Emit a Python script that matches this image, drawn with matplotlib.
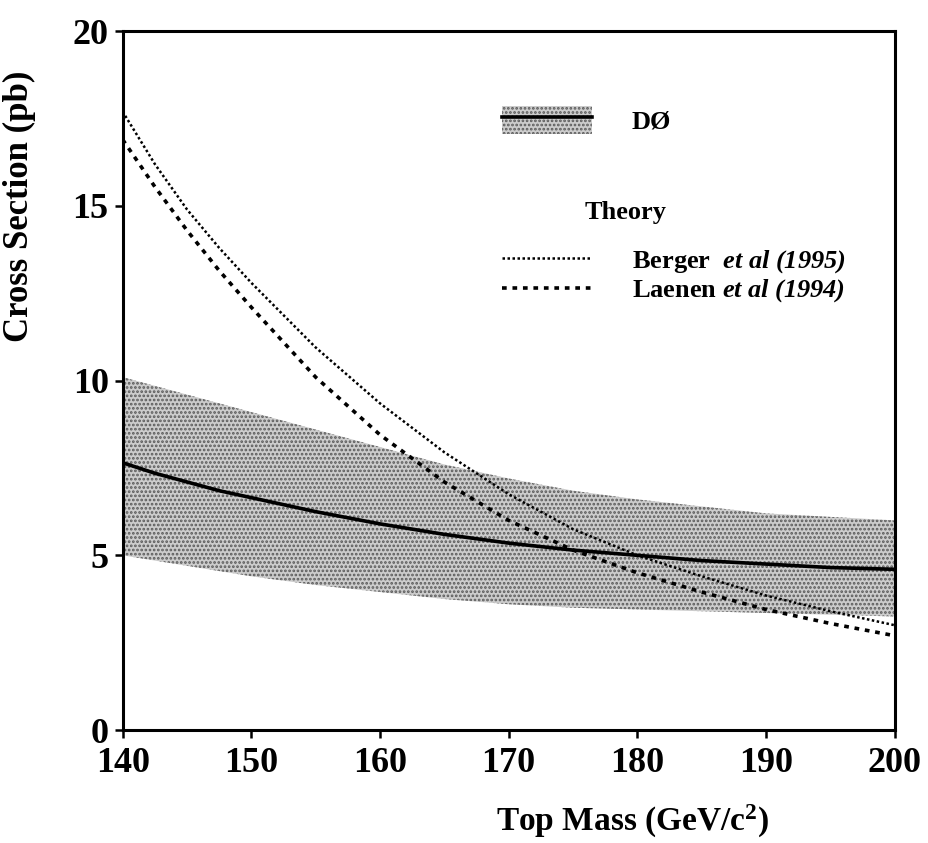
import matplotlib
matplotlib.use("Agg")
import matplotlib.pyplot as plt
from matplotlib.patches import Patch
from matplotlib.lines import Line2D

plt.rcParams['font.family'] = ['Liberation Serif', 'DejaVu Serif']
plt.rcParams['mathtext.fontset'] = 'custom'
plt.rcParams['mathtext.rm'] = 'Liberation Serif'
plt.rcParams['mathtext.it'] = 'Liberation Serif:italic'
plt.rcParams['mathtext.bf'] = 'Liberation Serif:bold'
plt.rcParams['mathtext.bfit'] = 'Liberation Serif:italic:bold'
plt.rcParams['hatch.linewidth'] = 1.3

# top mass (GeV/c^2)
mass = [140, 142.5, 145, 147.5, 150, 155, 160, 165, 170, 175, 180, 185, 190, 195, 200]

# D0 measurement and its error band (pb)
d0 = [7.65, 7.35, 7.1, 6.85, 6.65, 6.25, 5.9, 5.6, 5.35, 5.15, 5.0, 4.85, 4.75, 4.65, 4.6]
d0_hi = [10.1, 9.85, 9.6, 9.35, 9.1, 8.6, 8.1, 7.6, 7.2, 6.85, 6.6, 6.4, 6.2, 6.1, 6.0]
d0_lo = [5.0, 4.85, 4.7, 4.55, 4.4, 4.15, 3.95, 3.75, 3.6, 3.5, 3.45, 3.4, 3.35, 3.3, 3.25]

# theory curves (pb)
berger = [17.7, 16.2, 14.9, 13.8, 12.8, 10.95, 9.35, 7.95, 6.75, 5.75, 5.0, 4.4, 3.85, 3.4, 3.0]
laenen = [16.9, 15.55, 14.3, 13.15, 12.1, 10.1, 8.45, 7.1, 6.0, 5.15, 4.5, 3.95, 3.45, 3.05, 2.7]

xticks = [140, 150, 160, 170, 180, 190, 200]
yticks = [0, 5, 10, 15, 20]

fig = plt.figure(figsize=(9.29, 8.43), dpi=100)
ax = fig.add_axes([0.132, 0.134, 0.831, 0.829])

band_style = dict(facecolor='#cccccc', edgecolor='#5a5a5a', hatch='....', linewidth=0)
ax.fill_between(mass, d0_lo, d0_hi, **band_style)
ax.plot(mass, d0, color='black', lw=2.6)
berger_ls = (0, (1, 1.0))
laenen_ls = (0, (1.3, 1.6))
ax.plot(mass, berger, color='black', lw=1.8, linestyle=berger_ls)
ax.plot(mass, laenen, color='black', lw=2.6, linestyle=laenen_ls)

ax.set_xlim(140, 200)
ax.set_ylim(0, 20)
ax.set_xticks(xticks)
ax.set_yticks(yticks)
ax.tick_params(axis='both', labelsize=26, direction='out', length=6, width=1.8)
ax.tick_params(axis='x', pad=6)
ax.tick_params(axis='y', pad=4)
for lab in ax.get_xticklabels() + ax.get_yticklabels():
    lab.set_fontweight('bold')
for s in ax.spines.values():
    s.set_linewidth(2.2)
# lift the "0" a little so it clears the "140"
ax.get_yticklabels()[0].set_va('center_baseline')

ax.set_ylabel('Cross Section (pb)', fontsize=25, fontweight='bold')
ax.yaxis.set_label_coords(-0.112, 0.75)
ax.set_xlabel(r'Top Mass (GeV/c$^{\mathbf{2}}$)', fontsize=24, fontweight='bold')
ax.xaxis.set_label_coords(0.66, -0.105)

# legend: D0
d0_handle = (Patch(**band_style), Line2D([], [], color='black', lw=2.6))
leg1 = ax.legend([d0_handle], ['DØ'], loc='upper left', bbox_to_anchor=(0.492, 0.893),
                 frameon=False, prop={'weight': 'bold', 'size': 19},
                 handlelength=3.4, handleheight=1.25, handletextpad=1.5,
                 borderpad=0, borderaxespad=0)
ax.add_artist(leg1)

ax.text(0.598, 0.74, 'Theory', transform=ax.transAxes, fontsize=19,
        fontweight='bold', va='center', ha='left')

th_handles = [Line2D([], [], color='black', lw=1.8, linestyle=berger_ls),
              Line2D([], [], color='black', lw=2.6, linestyle=laenen_ls)]
th_labels = [r'Berger  $\mathbfit{et\ al\ (1995)}$', r'Laenen $\mathbfit{et\ al\ (1994)}$']
ax.legend(th_handles, th_labels, loc='upper left', bbox_to_anchor=(0.492, 0.69),
          frameon=False, prop={'weight': 'bold', 'size': 19},
          handlelength=3.4, handletextpad=1.5, labelspacing=0.1,
          borderpad=0, borderaxespad=0)

fig.savefig('out.png', dpi=100)
